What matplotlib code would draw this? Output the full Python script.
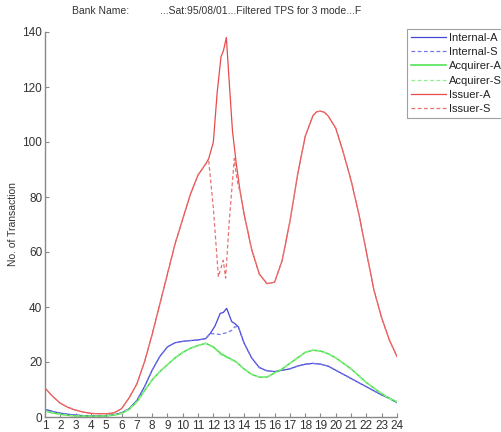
import matplotlib
matplotlib.use("Agg")
import matplotlib.pyplot as plt

plt.rcParams['font.family'] = ['Liberation Sans', 'DejaVu Sans']

# ---- data ----
hours_issuer = [1, 1.5, 2, 2.5, 3, 3.5, 4, 4.5, 5, 5.5, 6, 6.5, 7, 7.5, 8, 8.5, 9, 9.5, 10, 10.5,
                11, 11.5, 11.7, 12, 12.25, 12.5, 12.65, 12.85, 13.0, 13.25, 13.5, 13.75, 14, 14.5,
                15, 15.5, 16, 16.5, 17, 17.5, 18, 18.5, 18.75, 19, 19.25, 19.5, 20, 20.5, 21, 21.5,
                22, 22.5, 23, 23.5, 24]
issuer_a = [10.5, 7.5, 5, 3.5, 2.5, 1.8, 1.3, 1.2, 1.2, 1.5, 3, 7, 12, 20, 30, 41, 52, 63, 72, 81,
            88, 92, 94, 100, 118, 131, 133, 138, 125, 104, 92, 82, 74, 61,
            52, 48.5, 49, 57, 71, 88, 102, 109.5, 111, 111.2, 110.8, 109.5, 105, 96, 86, 74,
            60, 46, 36, 28, 22]

hours_issuer_s = [1, 1.5, 2, 2.5, 3, 3.5, 4, 4.5, 5, 5.5, 6, 6.5, 7, 7.5, 8, 8.5, 9, 9.5, 10, 10.5,
                  11, 11.5, 11.7, 12.0, 12.33, 12.65, 12.8, 13.05, 13.37, 13.5, 13.63, 13.75, 14, 14.5,
                  15, 15.5, 16, 16.5, 17, 17.5, 18, 18.5, 18.75, 19, 19.25, 19.5, 20, 20.5, 21, 21.5,
                  22, 22.5, 23, 23.5, 24]
issuer_s = [10.5, 7.5, 5, 3.5, 2.5, 1.8, 1.3, 1.2, 1.2, 1.5, 3, 7, 12, 20, 30, 41, 52, 63, 72, 81,
            88, 92, 93, 76, 51, 57, 50.5, 72, 94, 88, 84, 82, 74, 61,
            52, 48.5, 49, 57, 71, 88, 102, 109.5, 111, 111.2, 110.8, 109.5, 105, 96, 86, 74,
            60, 46, 36, 28, 22]

hours_internal = [1, 1.5, 2, 2.5, 3, 3.5, 4, 4.5, 5, 5.5, 6, 6.5, 7, 7.5, 8, 8.5, 9, 9.5, 10, 10.5,
                  11, 11.5, 11.8, 12.1, 12.45, 12.65, 12.87, 13.2, 13.4, 13.63, 14, 14.5,
                  15, 15.5, 16, 16.5, 17, 17.5, 18, 18.5, 19, 19.5, 20, 20.5, 21, 21.5, 22, 22.5,
                  23, 23.5, 24]
internal_a = [2.8, 2, 1.4, 1, 0.7, 0.5, 0.4, 0.4, 0.5, 0.8, 1.5, 3, 6, 11, 17, 22, 25.5, 27, 27.5, 27.8,
              28, 28.5, 30.4, 33, 37.7, 38, 39.5, 34.7, 34, 32.8, 27, 21.5,
              18, 16.8, 16.5, 17, 17.5, 18.5, 19.2, 19.5, 19.2, 18.5, 17, 15.5, 14, 12.5, 11, 9.5,
              8, 6.8, 5.2]
internal_s = [2.8, 2, 1.4, 1, 0.7, 0.5, 0.4, 0.4, 0.5, 0.8, 1.5, 3, 6, 11, 17, 22, 25.5, 27, 27.5, 27.8,
              28, 28.5, 30.4, 30.2, 30.0, 30.4, 30.6, 31.5, 32.8, 32.8, 27, 21.5,
              18, 16.8, 16.5, 17, 17.5, 18.5, 19.2, 19.5, 19.2, 18.5, 17, 15.5, 14, 12.5, 11, 9.5,
              8, 6.8, 5.2]

hours_acquirer = [1, 1.5, 2, 2.5, 3, 3.5, 4, 4.5, 5, 5.5, 6, 6.5, 7, 7.5, 8, 8.5, 9, 9.5, 10, 10.5,
                  11, 11.5, 12, 12.5, 13, 13.5, 14, 14.5, 15, 15.5, 16, 16.5, 17, 17.5, 18, 18.5,
                  19, 19.5, 20, 20.5, 21, 21.5, 22, 22.5, 23, 23.5, 24]
acquirer_a = [2.2, 1.5, 1, 0.6, 0.4, 0.3, 0.3, 0.3, 0.4, 0.7, 1.3, 2.8, 5.5, 9.5, 13.5, 16.5, 19, 21.5, 23.5, 25,
              26, 26.8, 25.5, 23, 21.5, 20, 17.5, 15.5, 14.5, 14.5, 16, 17.5, 19.5, 21.5, 23.5, 24.3,
              24, 23, 21.5, 19.5, 17.5, 15, 12.5, 10.5, 8.5, 6.8, 5.5]
acquirer_s = [2.2, 1.5, 1, 0.6, 0.4, 0.3, 0.3, 0.3, 0.4, 0.7, 1.3, 2.8, 5.5, 9.5, 13.5, 16.5, 19, 21.5, 23.5, 25,
              26, 26.8, 25.3, 22.6, 21.2, 20, 17.5, 15.5, 14.5, 14.5, 16, 17.5, 19.5, 21.5, 23.5, 24.3,
              24, 23, 21.5, 19.5, 17.5, 15, 12.5, 10.5, 8.5, 6.8, 5.5]

x_ticks = list(range(1, 25))
y_ticks = [0, 20, 40, 60, 80, 100, 120, 140]

# ---- figure ----
fig = plt.figure(figsize=(5.02, 4.32), dpi=100)
ax = fig.add_axes([45/502, 1 - 417/432, (397-45)/502, (417-32)/432])

ax.plot(hours_internal, internal_a, color='#4545d8', lw=0.9, label='Internal-A')
ax.plot(hours_internal, internal_s, color='#7575e8', lw=0.9, ls=(0, (3, 2)), label='Internal-S')
ax.plot(hours_acquirer, acquirer_a, color='#45e045', lw=1.1, label='Acquirer-A')
ax.plot(hours_acquirer, acquirer_s, color='#90f090', lw=0.9, ls=(0, (3, 2)), label='Acquirer-S')
ax.plot(hours_issuer, issuer_a, color='#e84c4c', lw=0.9, label='Issuer-A')
ax.plot(hours_issuer_s, issuer_s, color='#e87272', lw=0.9, ls=(0, (3, 2)), label='Issuer-S')

ax.set_xlim(1, 24)
ax.set_ylim(0, 140)
ax.set_xticks(x_ticks)
ax.set_yticks(y_ticks)
for s in ['top', 'right']:
    ax.spines[s].set_visible(False)
for s in ['left', 'bottom']:
    ax.spines[s].set_color('#888888')
    ax.spines[s].set_linewidth(1.0)
ax.tick_params(direction='in', length=3, width=0.8, color='#888888', labelsize=8.5,
               labelcolor='#333333', pad=2)
ax.set_ylabel('No. of Transaction', fontsize=7.5, color='#333333', labelpad=3)

fig.text(72/502, 1 - 14/432, 'Bank Name:', fontsize=7.5, color='#333333', va='baseline')
fig.text(160/502, 1 - 14/432, '...Sat:95/08/01...Filtered TPS for 3 mode...F', fontsize=7.5,
         color='#333333', va='baseline')

leg = ax.legend(loc='upper left', bbox_to_anchor=(407/502, 1 - 29/432),
                bbox_transform=fig.transFigure, frameon=True, fancybox=False,
                edgecolor='#888888', fontsize=8, handlelength=3.2, handletextpad=0.2,
                labelspacing=0.38, borderpad=0.35, borderaxespad=0)
leg.get_frame().set_linewidth(0.8)
for t in leg.get_texts():
    t.set_color('#222222')

fig.savefig('out.png', dpi=100)
